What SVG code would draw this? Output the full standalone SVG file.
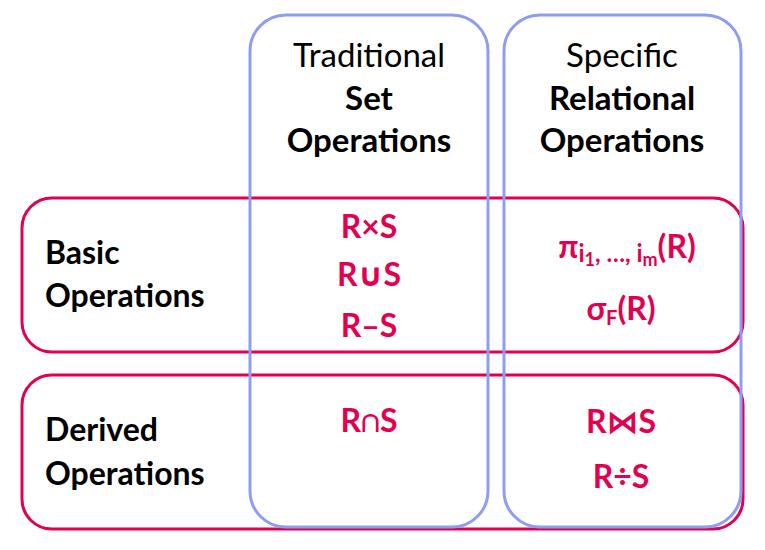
<svg xmlns="http://www.w3.org/2000/svg" width="765" height="550" viewBox="0 0 765 550">
<style>
.row{fill:none;stroke:#E2004F;stroke-width:3}
.col{fill:none;stroke:#8E9CF2;stroke-width:3}
.h{font-family:Lato,"Liberation Sans",sans-serif;font-size:33px;fill:#000;text-anchor:middle}
.b{font-weight:bold}
.lbl{font-family:Lato,"Liberation Sans",sans-serif;font-size:32px;font-weight:bold;fill:#000}
.op{font-family:Lato,"DejaVu Sans",sans-serif;font-size:32px;font-weight:bold;fill:#E2004F;text-anchor:middle}
</style>
<rect width="765" height="550" fill="#fff"/>
<g id="basic">
<rect class="row" x="22" y="198" width="721" height="154" rx="30"/>
<text class="lbl" x="45" y="264">Basic</text>
<text class="lbl" x="45" y="307">Operations</text>
</g>
<g id="derived">
<rect class="row" x="22" y="375" width="721" height="154" rx="30"/>
<text class="lbl" x="45" y="441">Derived</text>
<text class="lbl" x="45" y="485">Operations</text>
</g>
<g id="traditional">
<rect class="col" x="250" y="15" width="238" height="512" rx="36"/>
<text class="h" x="369" y="67">Traditional</text>
<text class="h b" x="369" y="110">Set</text>
<text class="h b" x="369" y="152">Operations</text>
</g>
<g id="specific">
<rect class="col" x="504" y="15" width="237" height="512" rx="36"/>
<text class="h" x="622" y="67">Specific</text>
<text class="h b" x="622" y="110">Relational</text>
<text class="h b" x="622" y="152">Operations</text>
</g>
<g id="set-ops">
<text class="op" x="369" y="238">R×S</text>
<text class="op" x="369" y="286">R∪S</text>
<text class="op" x="369" y="337">R–S</text>
<text class="op" x="369" y="432">R∩S</text>
</g>
<g id="rel-ops">
<text class="op" x="627" y="258">π<tspan font-size="24" dy="4">i</tspan><tspan font-size="18" dy="4">1</tspan><tspan font-size="24" dy="-4">, …, i</tspan><tspan font-size="18" dy="4">m</tspan><tspan dy="-8">(R)</tspan></text>
<text class="op" x="621" y="320">σ<tspan font-size="20" dy="5">F</tspan><tspan dy="-5">(R)</tspan></text>
<text class="op" x="621" y="433">R⋈S</text>
<text class="op" x="621" y="488">R÷S</text>
</g>
</svg>
